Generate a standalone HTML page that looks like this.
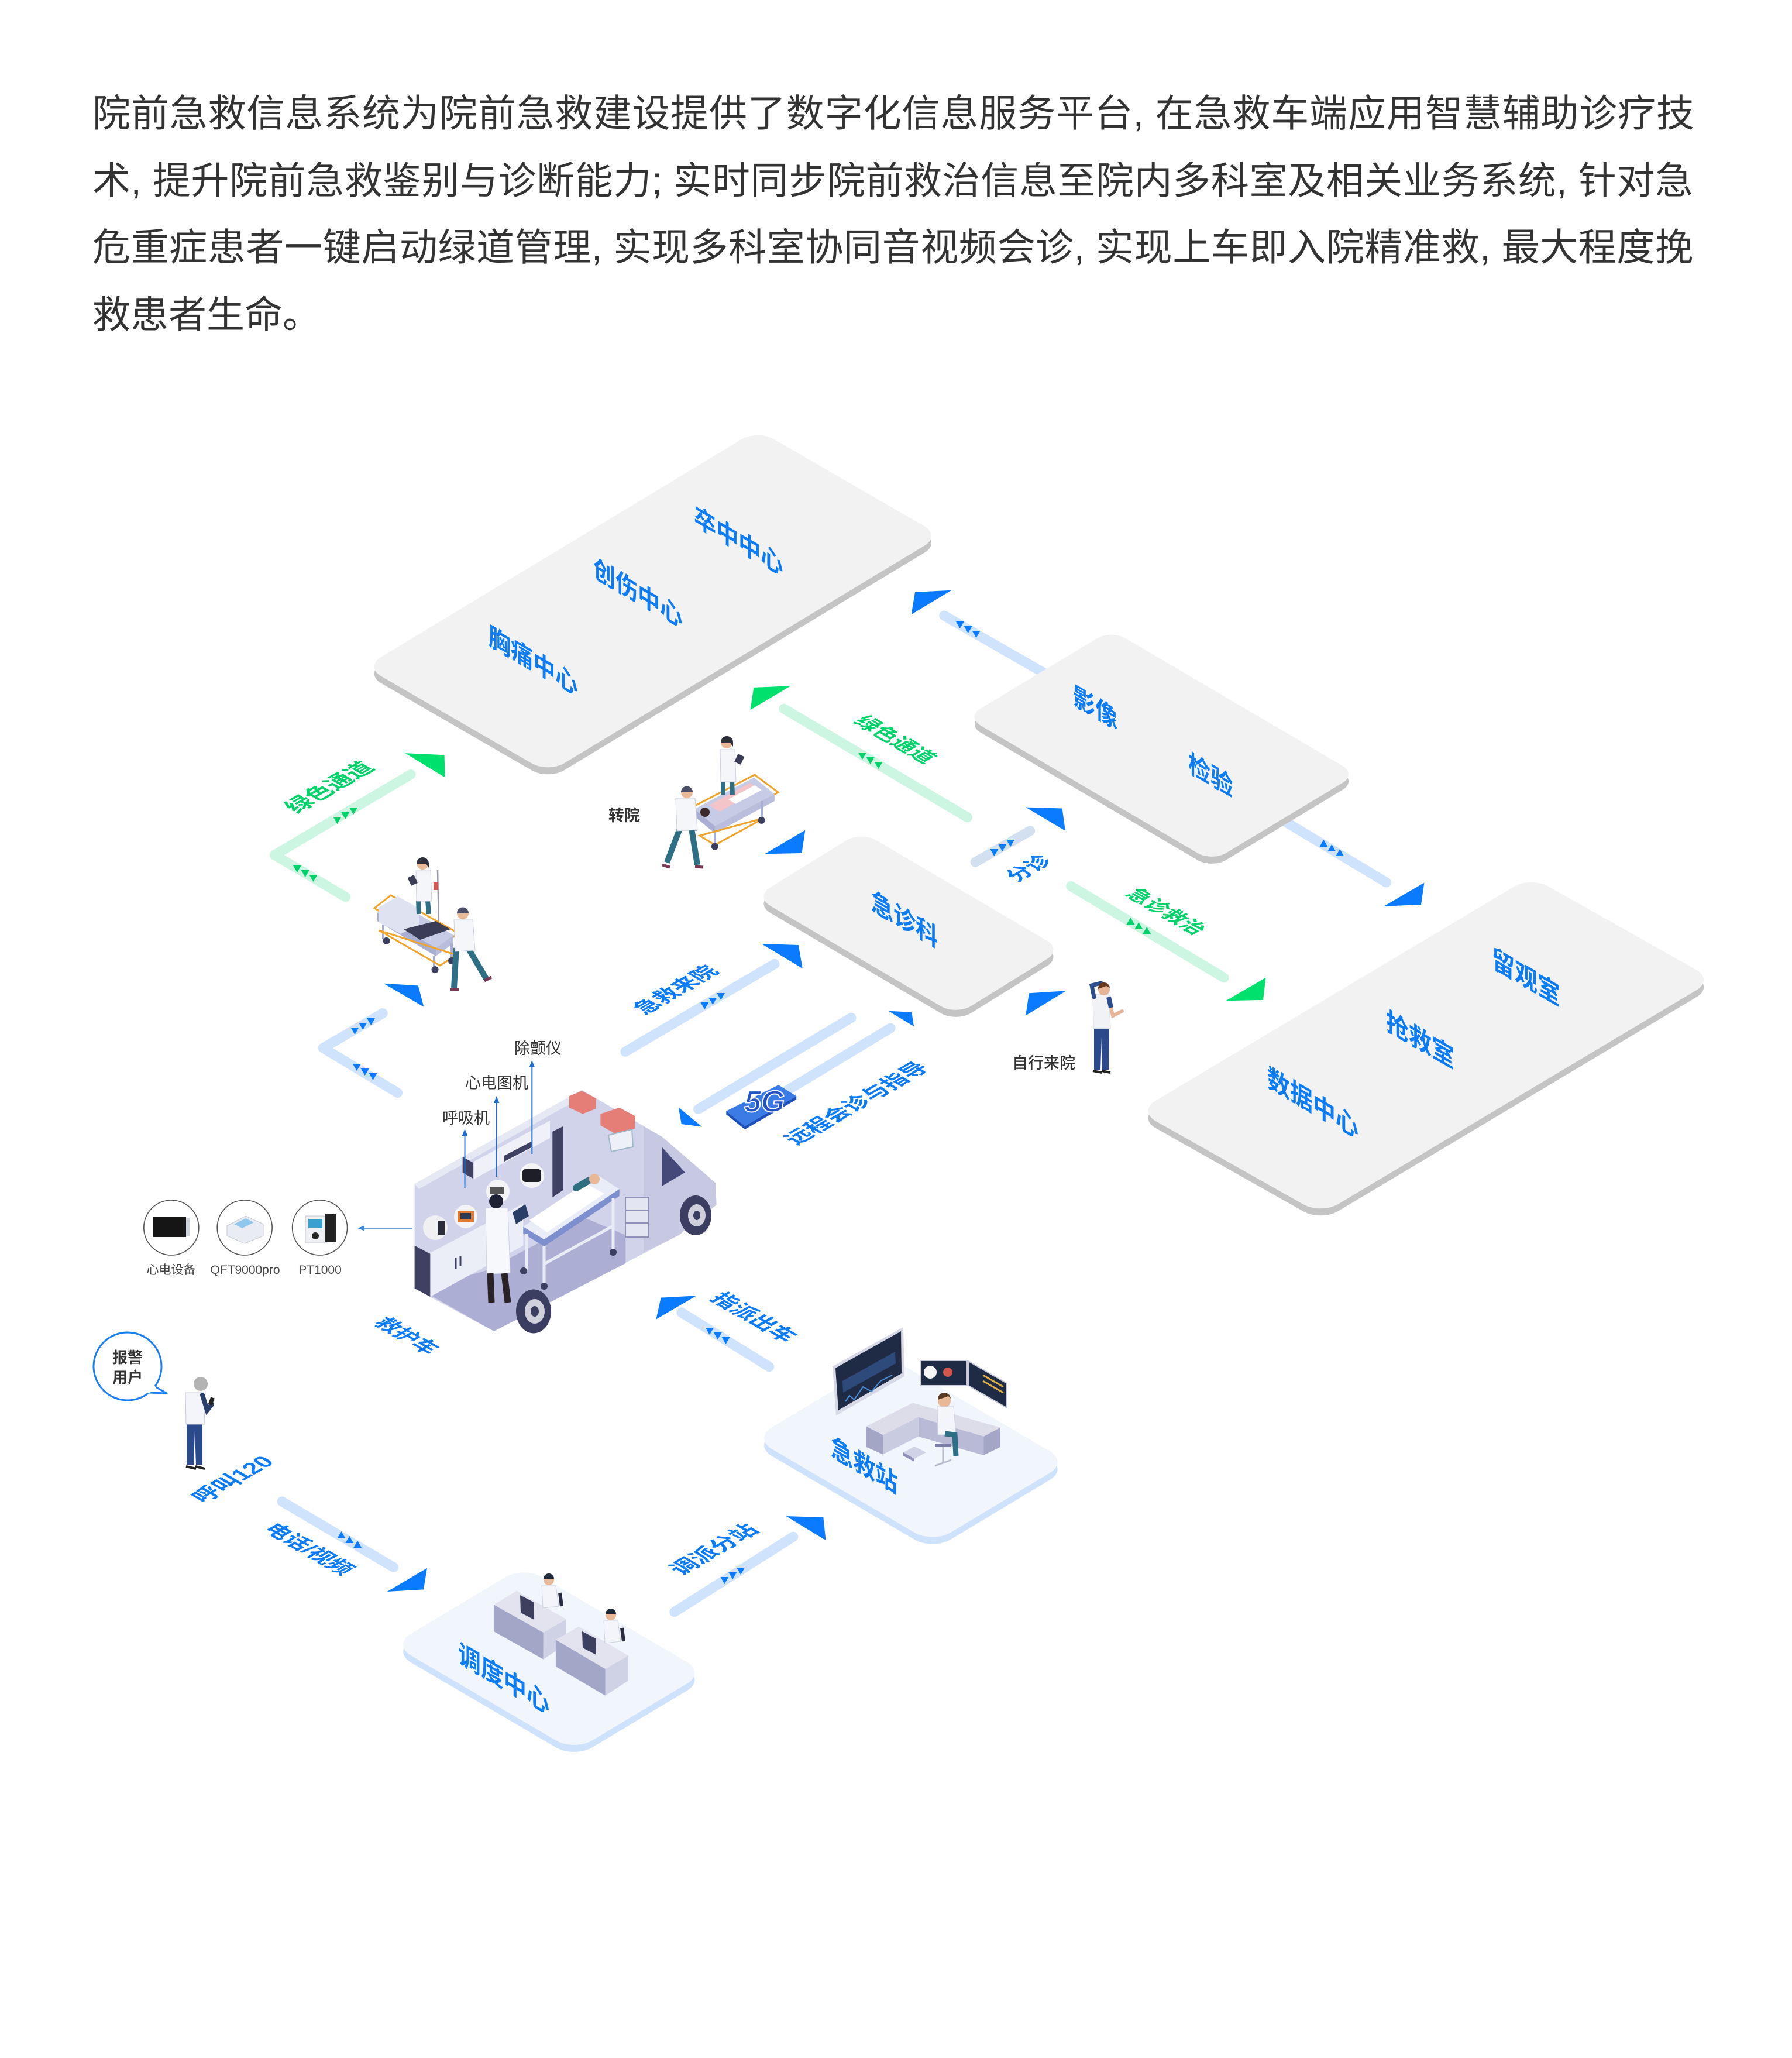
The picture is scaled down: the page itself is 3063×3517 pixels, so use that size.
<!DOCTYPE html>
<html><head><meta charset="utf-8">
<style>
html,body{margin:0;padding:0;background:#fff;width:3063px;height:3517px;overflow:hidden}
svg{display:block}
text{font-family:"Liberation Sans","Noto Sans CJK SC",sans-serif}
.lb{font-weight:bold;fill:#0b7bf6}
.lg{font-weight:bold;fill:#00d26a}
.dk{fill:#333}
</style></head><body>
<svg width="3063" height="3517" viewBox="0 0 3063 3517" xmlns="http://www.w3.org/2000/svg">
<rect width="3063" height="3517" fill="#fff"/>

<!-- Paragraph -->
<g fill="#333" font-size="65">
<text x="158" y="216" textLength="2738" lengthAdjust="spacing">院前急救信息系统为院前急救建设提供了数字化信息服务平台, 在急救车端应用智慧辅助诊疗技</text>
<text x="158" y="331" textLength="2736" lengthAdjust="spacing">术, 提升院前急救鉴别与诊断能力; 实时同步院前救治信息至院内多科室及相关业务系统, 针对急</text>
<text x="158" y="445" textLength="2736" lengthAdjust="spacing">危重症患者一键启动绿道管理, 实现多科室协同音视频会诊, 实现上车即入院精准救, 最大程度挽</text>
<text x="158" y="560">救患者生命。</text>
</g>

<!-- Bars -->
<g fill="none" stroke-linecap="round" stroke-linejoin="round" stroke-width="17">
<path d="M1613.8,1052 L1800,1159" stroke="#cfe3fd"/>
<path d="M2140,1370 L2369.5,1508" stroke="#cfe3fd"/>
<path d="M1667.1,1473.3 L1760.8,1419.8" stroke="#d3e0ef"/>
<path d="M1068.8,1797.3 L1323.9,1647.4" stroke="#cfe3fd"/>
<path d="M1193.5,1895.5 L1455,1739.3" stroke="#cfe3fd"/>
<path d="M1340,1866.8 L1522,1757" stroke="#cfe3fd"/>
<path d="M654.2,1731.6 L552.2,1791 L679.7,1867.5" stroke="#cfe3fd"/>
<path d="M1164.8,2243 L1314.7,2335.6" stroke="#cfe3fd"/>
<path d="M482,2566 L672.7,2678.3" stroke="#cfe3fd"/>
<path d="M1152.8,2754.7 L1355.8,2626.2" stroke="#cfe3fd"/>
<path d="M702,1323.5 L469.3,1461.2 L590.5,1532.7" stroke="#cdf6e2"/>
<path d="M1339.9,1211.2 L1653.7,1396.8" stroke="#cdf6e2"/>
<path d="M1830.6,1514.4 L2092,1670.7" stroke="#cdf6e2"/>
</g>

<!-- Platforms -->
<g transform="translate(0,12)"><rect width="784" height="362" rx="32" transform="matrix(0.8561,-0.5168,0.8657,0.5007,623.6,1139.5)" fill="#c4c4c4"/></g>
<rect width="784" height="362" rx="32" transform="matrix(0.8561,-0.5168,0.8657,0.5007,623.6,1139.5)" fill="#f2f2f2"/>

<g transform="translate(0,12)"><rect width="289" height="487" rx="28" transform="matrix(0.8566,-0.5161,0.8622,0.5067,1651.7,1225.5)" fill="#c4c4c4"/></g>
<rect width="289" height="487" rx="28" transform="matrix(0.8566,-0.5161,0.8622,0.5067,1651.7,1225.5)" fill="#f2f2f2"/>

<g transform="translate(0,12)"><rect width="213" height="399" rx="30" transform="matrix(0.8501,-0.5265,0.862,0.5069,1290.5,1532.7)" fill="#c4c4c4"/></g>
<rect width="213" height="399" rx="30" transform="matrix(0.8501,-0.5265,0.862,0.5069,1290.5,1532.7)" fill="#f2f2f2"/>

<g transform="translate(0,12)"><rect width="782" height="359" rx="34" transform="matrix(0.8585,-0.5127,0.8711,0.4912,1945.3,1898.9)" fill="#c4c4c4"/></g>
<rect width="782" height="359" rx="34" transform="matrix(0.8585,-0.5127,0.8711,0.4912,1945.3,1898.9)" fill="#f2f2f2"/>

<g transform="translate(0,12)"><rect width="270" height="355" rx="36" transform="matrix(0.857,-0.515,0.863,0.505,1288,2458)" fill="#cfe2fb"/></g>
<rect width="270" height="355" rx="36" transform="matrix(0.857,-0.515,0.863,0.505,1288,2458)" fill="#f1f6fd"/>

<g transform="translate(0,12)"><rect width="261" height="360" rx="36" transform="matrix(0.8577,-0.514,0.8629,0.5054,671,2810.7)" fill="#cfe2fb"/></g>
<rect width="261" height="360" rx="36" transform="matrix(0.8577,-0.514,0.8629,0.5054,671,2810.7)" fill="#f1f6fd"/>

<!-- Platform labels (vertical plane) -->
<g class="lb">
<text font-size="44" transform="matrix(0.866,0.5,0,1,835,1101)">胸痛中心</text>
<text font-size="44" transform="matrix(0.866,0.5,0,1,1014,985)">创伤中心</text>
<text font-size="44" transform="matrix(0.866,0.5,0,1,1186,896)">卒中中心</text>
<text font-size="44" transform="matrix(0.866,0.5,0,1,1834,1203)">影像</text>
<text font-size="44" transform="matrix(0.866,0.5,0,1,2031,1318)">检验</text>
<text font-size="44" transform="matrix(0.866,0.5,0,1,1489,1554)">急诊科</text>
<text font-size="45" transform="matrix(0.866,0.5,0,1,2550,1652)">留观室</text>
<text font-size="45" transform="matrix(0.866,0.5,0,1,2369,1759)">抢救室</text>
<text font-size="45" transform="matrix(0.866,0.5,0,1,2166,1856)">数据中心</text>
</g>

<!-- Triangles -->
<g fill="#0a7bff">
<polygon points="1557.7,1050.1 1626.5,1008.7 1564,1011.9"/>
<polygon points="1753.2,1379.6 1815.6,1381.5 1820.9,1419.8"/>
<polygon points="2365.4,1548.7 2434.4,1508.5 2429,1546"/>
<polygon points="1753.2,1735.5 1822,1693.4 1758.9,1697.2"/>
<polygon points="1307.4,1459.2 1376.3,1418.6 1370.5,1458"/>
<polygon points="1301.7,1613 1364.8,1615 1371.7,1655.1"/>
<polygon points="1518.8,1727.8 1558.3,1729.7 1562,1754"/>
<polygon points="1159.7,1892.3 1199.9,1925.5 1164.8,1921"/>
<polygon points="655.5,1680.6 714.8,1684.4 724.4,1720.8"/>
<polygon points="1121.4,2254.6 1190.3,2214.4 1129.7,2217.6"/>
<polygon points="661.7,2720 730,2679.7 724,2716.4"/>
<polygon points="1343.7,2591 1407.3,2593 1411.5,2632.4"/>
</g>
<g fill="#00e06c">
<polygon points="2095.3,1710.2 2163.5,1670.7 2159,1708.9"/>
<polygon points="1282.5,1213.1 1288.3,1174.9 1351.4,1172.2"/>
<polygon points="692.5,1287.1 759.5,1290.3 760.7,1328.6"/>
</g>

<!-- Chevrons -->
<defs>
<g id="chev"><polygon points="-22,-7 -10,0 -22,7"/><polygon points="-6,-7 6,0 -6,7"/><polygon points="10,-7 22,0 10,7"/></g>
</defs>
<g fill="#0a7bff">
<use href="#chev" transform="translate(1653,1073) rotate(210)"/>
<use href="#chev" transform="translate(2278,1452) rotate(30)"/>
<use href="#chev" transform="translate(1715,1446) rotate(-30)"/>
<use href="#chev" transform="translate(622,1751) rotate(-30)"/>
<use href="#chev" transform="translate(622,1829) rotate(210)"/>
<use href="#chev" transform="translate(1220,1708) rotate(-30)"/>
<use href="#chev" transform="translate(1225,2280) rotate(210)"/>
<use href="#chev" transform="translate(599,2634) rotate(30)"/>
<use href="#chev" transform="translate(1254,2690) rotate(-30)"/>
</g>
<g fill="#00d26a">
<use href="#chev" transform="translate(1948,1585) rotate(30)"/>
<use href="#chev" transform="translate(1486,1297) rotate(210)"/>
<use href="#chev" transform="translate(592,1391) rotate(-30)"/>
<use href="#chev" transform="translate(520,1490) rotate(210)"/>
</g>

<!-- Ground labels: down-right -->
<text class="lg" font-size="35" transform="matrix(0.866,0.5,-0.866,0.5,1922,1529)">急诊救治</text>
<text class="lg" font-size="36" transform="matrix(0.866,0.5,-0.866,0.5,1457,1234)">绿色通道</text>
<text class="lb" font-size="37" transform="matrix(0.866,0.5,-0.866,0.5,449,2614)">电话/视频</text>
<text class="lb" font-size="36" transform="matrix(0.866,0.5,-0.866,0.5,638,2262)">救护车</text>
<text class="lb" font-size="37.6" transform="matrix(0.866,0.5,-0.866,0.5,1212,2220)">指派出车</text>
<!-- Ground labels: up-right -->
<text class="lg" font-size="39" transform="matrix(0.866,-0.5,0.866,0.5,507,1391)">绿色通道</text>
<text class="lb" font-size="37" transform="matrix(0.866,-0.5,0.866,0.5,1102,1735)">急救来院</text>
<text class="lb" font-size="37.7" transform="matrix(0.866,-0.5,0.866,0.5,1361,1958)">远程会诊与指导</text>
<text class="lb" font-size="38.6" transform="matrix(0.866,-0.5,0.866,0.5,1165,2693)">调派分站</text>
<text class="lb" font-size="38.5" transform="matrix(0.866,-0.5,0.866,0.5,348,2570)">呼叫120</text>
<text class="lb" font-size="36" transform="matrix(0.866,-0.5,0.866,0.5,1738,1508)">分诊</text>

<!-- 急救站 illustration -->
<polygon points="1423,2335 1544,2268 1546,2352 1429,2419" fill="#d6d8e6"/>
<polygon points="1428,2338 1540,2275 1541,2347 1433,2410" fill="#1f2a44"/>
<polygon points="1440,2360 1530,2310 1531,2330 1441,2380" fill="#2e4a7a"/>
<path d="M1445,2395 L1452,2385 L1460,2392 L1475,2370 L1490,2378 L1505,2360 L1525,2350" stroke="#4a8fd6" stroke-width="2" fill="none"/>
<rect x="1574" y="2325" width="79" height="43" fill="#1f2a44" stroke="#c8cad8" stroke-width="2"/>
<circle cx="1590" cy="2345" r="11" fill="#f5f5f5"/>
<circle cx="1620" cy="2345" r="8" fill="#d4574f"/>
<polygon points="1655,2326 1721,2364 1721,2406 1655,2368" fill="#1f2a44" stroke="#c8cad8" stroke-width="2"/>
<path d="M1680,2350 L1715,2370 M1680,2360 L1715,2380" stroke="#e0b040" stroke-width="3"/>
<polygon points="1480.5,2437.6 1560.2,2397.4 1710,2439.5 1681.4,2454.8 1569.8,2421.7 1509.2,2452.3" fill="#dcdde9"/>
<polygon points="1480.5,2437.6 1509.2,2452.3 1509.2,2485.5 1480.5,2472.8" fill="#a3a6c5"/>
<polygon points="1509.2,2452.3 1569.8,2421.7 1569.8,2455 1509.2,2485.5" fill="#c9cbe0"/>
<polygon points="1569.8,2421.7 1681.4,2454.8 1681.4,2487 1569.8,2455" fill="#b9bbd6"/>
<polygon points="1681.4,2454.8 1710,2439.5 1710,2472.8 1681.4,2486.7" fill="#a3a6c5"/>
<polygon points="1544,2482 1563,2472 1583,2482 1563,2493" fill="#d0d2e6"/>
<polygon points="1544,2482 1563,2493 1563,2498 1544,2488" fill="#8f92b8"/>
<circle cx="1614" cy="2394" r="11" fill="#e8b897"/>
<path d="M1603,2392 a11,11 0 0 1 22,-2 l-4,-4 z" fill="#5a3a22"/>
<path d="M1602,2404 L1630,2404 L1634,2452 L1603,2452 Z" fill="#f4f5fa" stroke="#cdd0de"/>
<path d="M1615,2450 L1632,2452 L1634,2488" stroke="#2f6f86" stroke-width="9" fill="none"/>
<path d="M1598,2470 L1625,2470" stroke="#7b7ea6" stroke-width="6"/>
<path d="M1612,2472 L1612,2500 M1598,2505 L1626,2495" stroke="#b8bacd" stroke-width="3"/>
<text class="lb" font-size="44" transform="matrix(0.866,0.5,0,1,1420,2487)">急救站</text>

<!-- 调度中心 illustration -->
<polygon points="843.9,2742.3 883.2,2718.7 968,2767.2 928.7,2790" fill="#e2e3ee"/>
<polygon points="843.9,2742.3 928.7,2790 928.7,2835.6 843.9,2788" fill="#a2a7c7"/>
<polygon points="928.7,2790 968,2767.2 968,2810 928.7,2835.6" fill="#cfd1e4"/>
<polygon points="949.9,2802.4 989.3,2779.6 1074.1,2829.4 1034.7,2852.2" fill="#e2e3ee"/>
<polygon points="949.9,2802.4 1034.7,2852.2 1034.7,2897.8 949.9,2848" fill="#a2a7c7"/>
<polygon points="1034.7,2852.2 1074.1,2829.4 1074.1,2872 1034.7,2897.8" fill="#cfd1e4"/>
<polygon points="889,2726 912,2738 913,2768 890,2756" fill="#3d3f5e"/>
<polygon points="995,2788 1018,2800 1019,2828 996,2816" fill="#3d3f5e"/>
<circle cx="938" cy="2700" r="9" fill="#e8b897"/><path d="M929,2698 a9,9 0 0 1 18,0 z" fill="#1f2a3a"/>
<path d="M926,2710 L950,2710 L955,2745 L928,2748 Z" fill="#f4f5fa" stroke="#cfd2e0"/>
<circle cx="1044" cy="2760" r="9" fill="#e8b897"/><path d="M1035,2758 a9,9 0 0 1 18,0 z" fill="#1f2a3a"/>
<path d="M1032,2770 L1056,2770 L1061,2805 L1034,2808 Z" fill="#f4f5fa" stroke="#cfd2e0"/>
<path d="M957,2722 L960,2745 M1063,2782 L1066,2805" stroke="#2a2c40" stroke-width="6"/>
<text class="lb" font-size="45" transform="matrix(0.866,0.5,0,1,783,2840)">调度中心</text>

<!-- 5G icon -->
<polygon points="1241.3,1898.7 1273.2,1924.2 1361.2,1873.2 1361.2,1879 1273.2,1930 1241.3,1904.5" fill="#1d4fb8"/>
<polygon points="1241.3,1898.7 1330.6,1854.1 1361.2,1873.2 1273.2,1924.2" fill="#3b7be6"/>
<text x="1272" y="1900" font-size="52" font-weight="bold" font-style="italic" fill="#2352c4" stroke="#ffffff" stroke-width="2">5G</text>

<!-- Ambulance -->
<polygon points="708.6,2023.2 994.3,1862.5 1131.8,1942.9 1222.9,2021.4 1224.6,2058.9 1160.4,2110.7 844.3,2275 708.6,2201.8" fill="#d0d3e9"/>
<polygon points="708.6,2023.2 994.3,1862.5 1000,1872 716,2032" fill="#e6e8f4"/>
<polygon points="1100,1925 1131.8,1942.9 1222.9,2021.4 1224.6,2058.9 1160.4,2110.7 1100,2140" fill="#c6c9e1"/>
<polygon points="1131.8,1960.7 1171,2003.6 1131.8,2026.8" fill="#45497a"/>
<polygon points="737.1,2214.3 844.3,2275 1069.3,2158.9 1069.3,2110.7 1001.4,2082.1 830,2171.4 787.1,2183.9" fill="#acafd3"/>
<polygon points="708.6,2128.6 735.4,2142.9 735.4,2216.1 708.6,2201.8" fill="#3f4163"/>
<polygon points="735.4,2141 894.3,2057 894.3,2128.6 735.4,2216.1" fill="#eceef7"/>
<path d="M779,2150 L779,2168 M787,2146 L787,2164" stroke="#3f4163" stroke-width="3"/>
<polygon points="944.3,1933.9 962.1,1925 962.1,2034 944.3,2046.4" fill="#3f4163"/>
<polygon points="810,1985 940,1915 940,1945 810,2015" fill="#eff0f8"/>
<polygon points="862,1975 910,1950 910,1960 862,1985" fill="#3f4163"/>
<polygon points="790.7,1977 808.6,1987 808.6,2014 790.7,2004" fill="#3f4163"/>
<polygon points="972.9,1873.2 994.3,1864.3 1018.6,1876.8 1018.6,1894.6 996,1903.6 972.9,1892.9" fill="#e57e76"/>
<polygon points="1026.4,1903.6 1058.6,1892.9 1085.4,1907.1 1085.4,1928.6 1055,1939.3 1026.4,1923.2" fill="#e57e76"/>
<polygon points="1040,1940 1080,1930 1082,1960 1045,1968" fill="#eef0f8" stroke="#9fb9c9" stroke-width="2"/>
<rect x="1069" y="2046" width="40" height="68" fill="#e3e5f2" stroke="#8f92b8" stroke-width="2"/>
<path d="M1069,2068 L1109,2068 M1069,2090 L1109,2090" stroke="#8f92b8" stroke-width="2"/>
<!-- stretcher in ambulance -->
<polygon points="894.3,2096.4 930,2117.9 1058.6,2032.1 1058.6,2044 930,2130 894.3,2108" fill="#7e8fd0"/>
<polygon points="894.3,2096.4 1022.9,2008.9 1058.6,2032.1 930,2117.9" fill="#e9edf8"/>
<polygon points="905,2085 1000,2022 1033,2040 935,2106" fill="#ffffff"/>
<path d="M985,2030 L1005,2018" stroke="#2f6f7f" stroke-width="12" stroke-linecap="round"/>
<circle cx="1016" cy="2015" r="9" fill="#e8b897"/>
<path d="M900,2108 L900,2170 M930,2130 L930,2195 M1048,2048 L1048,2140 M930,2160 L1048,2095" stroke="#e8ecf5" stroke-width="5"/>
<circle cx="895" cy="2172" r="6" fill="#3b3e60"/><circle cx="930" cy="2198" r="6" fill="#3b3e60"/><circle cx="1048" cy="2140" r="6" fill="#3b3e60"/>
<!-- equipment circles -->
<circle cx="744" cy="2098" r="21" fill="#f0f0f2"/><rect x="748" y="2086" width="12" height="24" fill="#2b2d3a"/>
<circle cx="796" cy="2079" r="20" fill="#f4f4f6"/><rect x="782" y="2070" width="28" height="18" fill="#e07a30"/><rect x="787" y="2073" width="18" height="11" fill="#2b3b55"/>
<circle cx="851" cy="2036" r="20" fill="#f4f4f6"/><rect x="838" y="2028" width="24" height="12" fill="#555"/>
<circle cx="909" cy="2009" r="21" fill="#f4f4f6"/><rect x="893" y="1998" width="32" height="22" rx="5" fill="#1e1f26"/>
<!-- doctor -->
<path d="M830,2064 L868,2064 L872,2175 L832,2178 Z" fill="#f7f8fc" stroke="#d0d3e2"/>
<path d="M838,2176 L840,2226 M862,2176 L868,2226" stroke="#2a2326" stroke-width="11"/>
<circle cx="848" cy="2053" r="12" fill="#1f2233"/>
<polygon points="876,2072 898,2058 904,2078 882,2092" fill="#2a3d66"/>
<!-- wheels -->
<ellipse cx="1189" cy="2077" rx="27" ry="34" fill="#3b3e60"/><ellipse cx="1191" cy="2077" rx="15" ry="19" fill="#cfd0dc"/><ellipse cx="1191" cy="2077" rx="6" ry="8" fill="#3b3e60"/>
<ellipse cx="912" cy="2241" rx="30" ry="37.5" fill="#3b3e60"/><ellipse cx="914" cy="2241" rx="17" ry="21" fill="#cfd0dc"/><ellipse cx="914" cy="2241" rx="7" ry="9" fill="#3b3e60"/>

<!-- ambulance equipment leaders -->
<g stroke="#1f6fd1" stroke-width="2">
<line x1="909.3" y1="1822" x2="909.3" y2="1972"/>
<line x1="848.7" y1="1883" x2="848.7" y2="2011"/>
<line x1="794.5" y1="1939" x2="794.5" y2="2030"/>
<line x1="705" y1="2099" x2="620" y2="2099" stroke="#3a86da" stroke-width="1.6"/>
</g>
<g fill="#1f6fd1">
<polygon points="909.3,1812 904.5,1824 914,1824"/>
<polygon points="848.7,1873 844,1885 853.4,1885"/>
<polygon points="794.5,1929 789.8,1941 799.2,1941"/>
<polygon points="611,2099 623,2094.5 623,2103.5" fill="#3a86da"/>
</g>
<g class="dk" font-size="27">
<text x="879" y="1801">除颤仪</text>
<text x="795" y="1860">心电图机</text>
<text x="756" y="1920">呼吸机</text>
</g>

<!-- device circles -->
<g fill="#fff" stroke="#555" stroke-width="1.6">
<circle cx="292.8" cy="2098" r="47"/>
<circle cx="418.2" cy="2098" r="47"/>
<circle cx="546.6" cy="2098" r="47"/>
</g>
<rect x="262" y="2080" width="56" height="34" fill="#151515"/>
<rect x="318" y="2082" width="6" height="30" fill="#cfd3da"/>
<polygon points="388,2095 420,2078 450,2092 450,2112 418,2125 388,2112" fill="#e9ecf2" stroke="#c5c9d3"/>
<polygon points="400,2092 420,2082 434,2089 414,2099" fill="#8fc8ef"/>
<rect x="522" y="2078" width="36" height="46" fill="#eef0f3" stroke="#c5c9d3"/>
<rect x="556" y="2074" width="18" height="48" fill="#222"/>
<rect x="527" y="2083" width="24" height="16" fill="#3aa0d0"/>
<circle cx="539" cy="2112" r="6" fill="#222"/>
<g fill="#444" font-size="21" text-anchor="middle">
<text x="292.5" y="2177">心电设备</text>
<text x="419" y="2177">QFT9000pro</text>
<text x="547" y="2177">PT1000</text>
</g>

<!-- 报警用户 bubble -->
<path d="M262,2368 L285,2381 L252,2380" fill="#fff" stroke="#1a7ef2" stroke-width="3" stroke-linejoin="round"/>
<circle cx="218" cy="2335" r="58" fill="#fff" stroke="#1a7ef2" stroke-width="3"/>
<rect x="250" y="2368" width="16" height="10" fill="#fff" transform="rotate(-30 258 2373)"/>
<g class="dk" font-size="26" font-weight="bold">
<text x="192" y="2329">报警</text>
<text x="192" y="2363">用户</text>
</g>

<!-- caller person -->
<path d="M319,2430 L346,2430 L346,2503 L335,2503 L333,2445 L331,2503 L319,2503 Z" fill="#2a4a8c"/>
<path d="M317,2380 L348,2380 L350,2434 L318,2434 Z" fill="#f4f5fa" stroke="#c9ccd8"/>
<path d="M346,2384 L354,2410 L362,2400" stroke="#2b3f6b" stroke-width="8" fill="none" stroke-linecap="round"/>
<rect x="358" y="2388" width="7" height="13" fill="#222" transform="rotate(20 361 2394)"/>
<circle cx="343" cy="2365" r="12" fill="#b3b3b3"/>
<path d="M318,2506 L335,2510 M334,2506 L350,2510" stroke="#222" stroke-width="4"/>

<!-- 自行来院 person -->
<path d="M1870,1756 L1896,1756 L1895,1828 L1884,1828 L1883,1772 L1881,1828 L1870,1828 Z" fill="#2a4a8c"/>
<path d="M1868,1700 L1896,1700 L1898,1758 L1869,1758 Z" fill="#f1f2f5" stroke="#c9ccd6"/>
<path d="M1870,1704 L1866,1684 L1882,1680" stroke="#2d4d8a" stroke-width="7" fill="none" stroke-linecap="round"/>
<path d="M1896,1706 L1902,1736 L1918,1728" stroke="#e6b597" stroke-width="6" fill="none" stroke-linecap="round"/>
<path d="M1895,1704 L1899,1722" stroke="#2d4d8a" stroke-width="8"/>
<circle cx="1887" cy="1691" r="10" fill="#e6b597"/>
<path d="M1877,1690 a10,10 0 0 1 20,-2 l-6,-3 z" fill="#6b3a1f"/>
<path d="M1868,1830 L1884,1833 M1883,1830 L1898,1833" stroke="#222" stroke-width="4"/>
<text class="dk" x="1730" y="1826" font-size="27" font-weight="500">自行来院</text>

<!-- stretcher group 1 (green channel) -->
<line x1="748" y1="1487" x2="750" y2="1578" stroke="#9a9cb0" stroke-width="2.5"/>
<rect x="741" y="1508" width="8" height="13" fill="#d4574f"/>
<polygon points="640,1552 668,1530 782,1594 754,1622" fill="none" stroke="#f0a42a" stroke-width="3"/>
<polygon points="645,1560 675,1538 775,1598 745,1620" fill="#c6cbe6"/>
<polygon points="645,1560 745,1620 745,1634 645,1574" fill="#a9aed3"/>
<polygon points="745,1620 775,1598 775,1612 745,1634" fill="#b9bedc"/>
<polygon points="648,1550 680,1532 716,1552 716,1580 685,1596 648,1576" fill="#dfe2f1"/>
<polygon points="690,1588 745,1574 770,1588 718,1606" fill="#3a3d55"/>
<path d="M655,1580 L655,1605 M742,1634 L742,1655 M772,1612 L772,1640" stroke="#a9aed3" stroke-width="4"/>
<polygon points="648,1590 752,1650 780,1632" fill="none" stroke="#f0a42a" stroke-width="3"/>
<circle cx="660.6" cy="1607.9" r="6" fill="#3b3e60"/><circle cx="743.5" cy="1657" r="6" fill="#3b3e60"/><circle cx="772" cy="1642" r="6" fill="#3b3e60"/>
<path d="M715,1539 L716,1562 M731,1539 L733,1562" stroke="#2f6f86" stroke-width="8"/>
<path d="M711,1488 L736,1488 L738,1540 L712,1540 Z" fill="#f5f6fa" stroke="#cdd0de"/>
<rect x="699" y="1497" width="12" height="15" fill="#3a3d55" transform="rotate(-25 705 1504)"/>
<circle cx="722.5" cy="1476" r="10" fill="#e8b897"/><path d="M712,1476 a10,10 0 0 1 21,-1 l0,8 l-5,-7 z" fill="#2d2f3d"/>
<path d="M780,1620 L776,1688 M800,1620 L832,1674" stroke="#2f6f86" stroke-width="10" fill="none"/>
<path d="M776,1572 L808,1572 L812,1624 L778,1626 Z" fill="#f5f6fa" stroke="#cdd0de"/>
<circle cx="791" cy="1561" r="10" fill="#e8b897"/><path d="M781,1561 a10,10 0 0 1 20,-1 z" fill="#4a4d66"/>
<path d="M770,1691 L784,1691 M828,1676 L840,1670" stroke="#7a3a55" stroke-width="5"/>

<!-- stretcher group 2 (转院) -->
<polygon points="1182,1380 1290,1324 1330,1354 1222,1414" fill="none" stroke="#f0a42a" stroke-width="3"/>
<polygon points="1186.8,1382.8 1288.8,1328.6 1323.9,1357.3 1221.8,1411.5" fill="#c6cbe6"/>
<polygon points="1186.8,1382.8 1221.8,1411.5 1221.8,1424 1186.8,1395" fill="#a9aed3"/>
<polygon points="1221.8,1411.5 1323.9,1357.3 1323.9,1369 1221.8,1424" fill="#b9bedc"/>
<polygon points="1212,1376 1282,1338 1300,1349 1230,1387" fill="#f4c5c8"/>
<polygon points="1245,1366 1290,1342 1302,1350 1257,1374" fill="#ffffff"/>
<circle cx="1205" cy="1388" r="8" fill="#3a2a2a"/>
<path d="M1222,1424 L1222,1444 M1302,1369 L1302,1400 M1190,1395 L1190,1420" stroke="#a9aed3" stroke-width="4"/>
<polygon points="1196,1428 1222,1444 1306,1398" fill="none" stroke="#f0a42a" stroke-width="3"/>
<circle cx="1221.8" cy="1446.6" r="6" fill="#3b3e60"/><circle cx="1301.6" cy="1401.9" r="6" fill="#3b3e60"/>
<path d="M1236,1334 L1236,1358 M1251,1334 L1252,1358" stroke="#2f6f86" stroke-width="8"/>
<path d="M1231,1281 L1256,1281 L1258,1336 L1232,1336 Z" fill="#f5f6fa" stroke="#cdd0de"/>
<rect x="1258" y="1290" width="12" height="15" fill="#3a3d55" transform="rotate(25 1264 1297)"/>
<circle cx="1242" cy="1269" r="10" fill="#e8b897"/><path d="M1232,1269 a10,10 0 0 1 21,-1 l0,8 l-5,-7 z" fill="#2d2f3d"/>
<path d="M1162,1416 L1140,1474 M1182,1416 L1192,1478" stroke="#2f6f86" stroke-width="10" fill="none"/>
<path d="M1155,1364 L1188,1364 L1192,1418 L1157,1420 Z" fill="#f5f6fa" stroke="#cdd0de"/>
<circle cx="1174" cy="1354" r="10" fill="#e8b897"/><path d="M1164,1354 a10,10 0 0 1 20,-1 z" fill="#4a4d66"/>
<path d="M1132,1478 L1145,1482 M1188,1481 L1202,1482" stroke="#7a3a55" stroke-width="5"/>
<text class="dk" x="1040" y="1403" font-size="27" font-weight="bold">转院</text>

</svg>
</body></html>
